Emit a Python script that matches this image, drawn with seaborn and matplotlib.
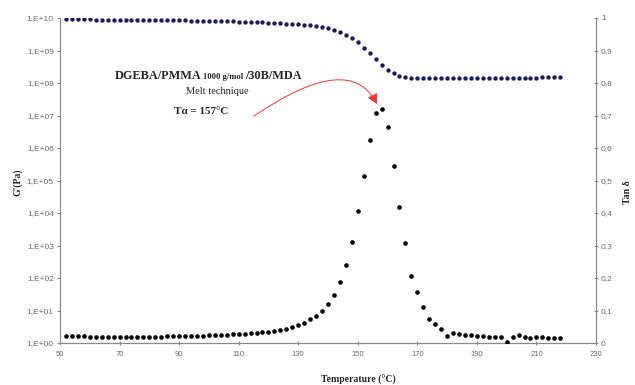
import numpy as np
import pandas as pd
import matplotlib
matplotlib.use("Agg")
import matplotlib.pyplot as plt
import seaborn as sns
from matplotlib.path import Path
from matplotlib.patches import FancyArrowPatch
from matplotlib.ticker import NullLocator

# ---------------- data ----------------
temperature = [52, 54, 56, 58, 60, 62, 64, 66, 68, 70, 72, 74, 76, 78, 80, 82, 84, 86, 88, 90,
               92, 94, 96, 98, 100, 102, 104, 106, 108, 110, 112, 114, 116, 118, 120, 122, 124,
               126, 128, 130, 132, 134, 136, 138, 140, 142, 144, 146, 148, 150, 152, 154, 156,
               158, 160, 162, 164, 166, 168, 170, 172, 174, 176, 178, 180, 182, 184, 186, 188,
               190, 192, 194, 196, 198, 200, 202, 204, 206, 208, 210, 212, 214, 216, 218]

storage_modulus = [9.0e9, 9.0e9, 9.0e9, 9.0e9, 9.0e9,
                   8.8e9, 8.8e9, 8.8e9, 8.8e9, 8.8e9, 8.8e9, 8.8e9, 8.8e9, 8.8e9, 8.8e9,
                   8.6e9, 8.6e9, 8.5e9, 8.5e9, 8.4e9, 8.4e9, 8.3e9, 8.3e9, 8.2e9, 8.2e9,
                   8.1e9, 8.0e9, 8.0e9, 7.9e9, 7.8e9, 7.7e9,
                   7.6e9, 7.5e9, 7.3e9, 7.2e9, 7.0e9, 6.9e9, 6.7e9, 6.6e9, 6.4e9,
                   6.1e9, 6.0e9, 5.7e9, 5.4e9, 4.8e9, 4.3e9, 3.6e9, 3.0e9, 2.4e9, 1.8e9,
                   1.2e9, 8.2e8, 5.4e8, 3.6e8, 2.5e8, 2.0e8, 1.7e8, 1.56e8, 1.46e8,
                   1.43e8, 1.43e8, 1.43e8, 1.43e8, 1.43e8, 1.43e8, 1.43e8, 1.43e8, 1.43e8,
                   1.43e8, 1.43e8, 1.43e8, 1.43e8, 1.43e8, 1.43e8, 1.43e8, 1.43e8, 1.43e8,
                   1.43e8, 1.43e8, 1.43e8,
                   1.48e8, 1.48e8, 1.48e8, 1.48e8]

tan_delta = [0.023, 0.023, 0.022, 0.021, 0.020, 0.020, 0.020, 0.020, 0.020, 0.020,
             0.020, 0.020, 0.020, 0.020, 0.020, 0.020, 0.020, 0.021, 0.021, 0.021,
             0.021, 0.021, 0.022, 0.022, 0.024, 0.024, 0.025, 0.026, 0.027, 0.028,
             0.028, 0.030, 0.032, 0.033, 0.035, 0.038, 0.040, 0.044, 0.048, 0.056,
             0.063, 0.073, 0.084, 0.099, 0.120, 0.148, 0.188, 0.239, 0.311, 0.405,
             0.515, 0.625, 0.707, 0.720, 0.664, 0.546, 0.419, 0.309, 0.206, 0.156,
             0.112, 0.075, 0.058, 0.042, 0.022, 0.030, 0.029, 0.024, 0.024, 0.022,
             0.022, 0.018, 0.019, 0.019, 0.003, 0.018, 0.024, 0.018, 0.015, 0.018,
             0.018, 0.016, 0.015, 0.016]

x_ticks = [50, 70, 90, 110, 130, 150, 170, 190, 210, 230]
left_tick_values = [1e0, 1e1, 1e2, 1e3, 1e4, 1e5, 1e6, 1e7, 1e8, 1e9, 1e10]
left_tick_labels = ["1,E+00", "1,E+01", "1,E+02", "1,E+03", "1,E+04", "1,E+05",
                    "1,E+06", "1,E+07", "1,E+08", "1,E+09", "1,E+10"]
right_tick_values = [0, 0.1, 0.2, 0.3, 0.4, 0.5, 0.6, 0.7, 0.8, 0.9, 1.0]
right_tick_labels = ["0", "0,1", "0,2", "0,3", "0,4", "0,5", "0,6", "0,7", "0,8", "0,9", "1"]

# ---------------- style ----------------
sns.set_theme(style="white")
plt.rcParams["font.family"] = ["Liberation Sans", "DejaVu Sans"]
SERIF = ["Liberation Serif", "DejaVu Serif"]
GRAY = "#8a8a8a"
TICKCOL = "#6a6a6a"

W, H = 635, 385
fig = plt.figure(figsize=(W / 100, H / 100), dpi=100)
fig.patch.set_facecolor("white")
ax = fig.add_axes([60 / W, 42 / H, 536 / W, 325 / H])

df = pd.DataFrame({"T": temperature, "G": storage_modulus, "tan": tan_delta})

sns.scatterplot(data=df, x="T", y="G", ax=ax, s=10, color="#1c1c5a",
                linewidth=0, legend=False, zorder=3)
ax.set_yscale("log")
ax.set_ylim(1, 1e10)
ax.set_xlim(50, 230)

ax2 = ax.twinx()
sns.scatterplot(data=df, x="T", y="tan", ax=ax2, s=11, color="black",
                linewidth=0, legend=False, zorder=3)
ax2.set_ylim(0, 1)
ax2.set_xlim(50, 230)

for a in (ax, ax2):
    a.set_xlabel("")
    a.set_ylabel("")
    a.patch.set_alpha(0)
    a.spines["top"].set_visible(False)
    for sp in a.spines.values():
        sp.set_color(GRAY)
        sp.set_linewidth(0.9)
ax.spines["right"].set_visible(False)
ax2.spines["left"].set_visible(False)
ax2.spines["bottom"].set_visible(False)

ax.set_xticks(x_ticks)
ax.set_xticklabels([str(v) for v in x_ticks])
ax.set_yticks(left_tick_values)
ax.set_yticklabels(left_tick_labels)
ax.yaxis.set_minor_locator(NullLocator())
ax2.set_yticks(right_tick_values)
ax2.set_yticklabels(right_tick_labels)

ax.tick_params(axis="x", bottom=True, direction="inout", length=3, width=0.8,
               color=GRAY, labelsize=5.5, labelcolor=TICKCOL, pad=4)
ax.tick_params(axis="y", left=True, direction="out", length=2.5, width=0.8,
               color=GRAY, labelsize=6, labelcolor=TICKCOL, pad=2)
ax2.tick_params(axis="y", right=True, direction="inout", length=3, width=0.8,
                color=GRAY, labelsize=6, labelcolor=TICKCOL, pad=2)

# axis titles
fig.text(358 / W, 1 - 380 / H, "Temperature (°C)", ha="center", va="center",
         fontsize=7, fontweight="bold", family=SERIF)
fig.text(18 / W, 1 - 182 / H, "G'(Pa)", ha="center", va="center", rotation=90,
         fontsize=7, fontweight="bold", family=SERIF)
fig.text(628 / W, 1 - 192 / H, "Tan δ", ha="center", va="center", rotation=90,
         fontsize=7, fontweight="bold", family=SERIF)

# annotation block
fig.canvas.draw()
r = fig.canvas.get_renderer()
y1 = 1 - 79 / H
t1 = fig.text(115 / W, y1, "DGEBA/PMMA", ha="left", va="baseline",
              fontsize=8.8, fontweight="bold", family=SERIF)
bb = t1.get_window_extent(r)
t2 = fig.text((bb.x1 + 1.5) / W, y1, "1000 g/mol", ha="left", va="baseline",
              fontsize=6.2, fontweight="bold", family=SERIF)
bb = t2.get_window_extent(r)
t3 = fig.text((bb.x1 + 2) / W, y1, "/30B/MDA", ha="left", va="baseline",
              fontsize=8.8, fontweight="bold", family=SERIF)
fig.text(217 / W, 1 - 92 / H, "Melt technique", ha="center", va="center",
         fontsize=7.5, family=SERIF)
fig.text(201 / W, 1 - 111 / H, "Tα = 157°C", ha="center", va="center",
         fontsize=8, fontweight="bold", family=SERIF)

# curved red arrow (in tan-delta data coordinates)
arrow_path = Path([(115.1, 0.698), (147.4, 0.90), (156.4, 0.735)],
                  [Path.MOVETO, Path.CURVE3, Path.CURVE3])
arr = FancyArrowPatch(path=arrow_path, arrowstyle="-|>,head_length=0.6,head_width=0.32",
                      mutation_scale=10, color="#e23a3a", linewidth=0.7,
                      transform=ax2.transData, zorder=4)
ax2.add_patch(arr)

fig.savefig("out.png", dpi=100, facecolor="white")
